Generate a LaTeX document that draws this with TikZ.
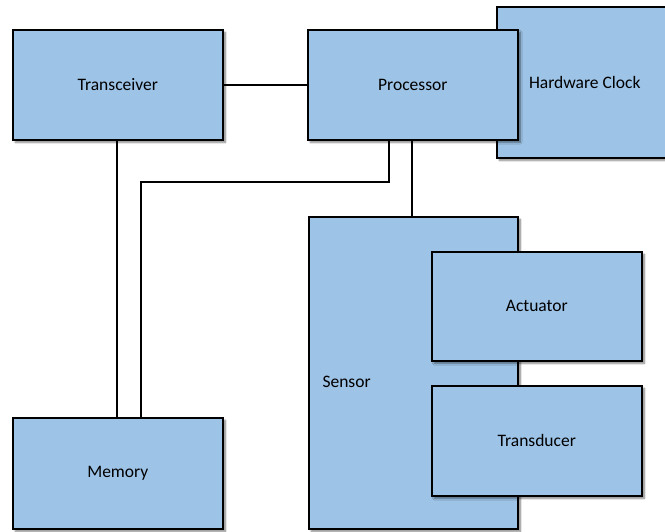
\documentclass[tikz,border=0pt]{standalone}
\usepackage{fontspec}
\setmainfont{Carlito}
\usetikzlibrary{shadows.blur}
\definecolor{boxblue}{HTML}{9DC3E6}
\tikzset{
  unit/.style={draw=black, line width=1.6pt, fill=boxblue, rectangle,
    anchor=north west, inner sep=0pt, font=\fontsize{17.5}{20}\selectfont,
    blur shadow={shadow xshift=2.5pt, shadow yshift=-2.5pt, shadow blur steps=6, shadow opacity=50}},
  wire/.style={draw=black, line width=1.6pt}
}
\begin{document}
\begin{tikzpicture}[x=1pt, y=-1pt]
\useasboundingbox (0,0) rectangle (665,531);
% boxes
\node[unit, minimum width=176pt, minimum height=151pt] (clk) at (496,6) {Hardware Clock};
\node[unit, minimum width=210pt, minimum height=110pt] (trx) at (12,29) {Transceiver};
\node[unit, minimum width=210pt, minimum height=110pt] (proc) at (307,29) {Processor};
\node[unit, minimum width=209pt, minimum height=312pt,
  label={[anchor=west, xshift=11pt, yshift=-9pt, font=\fontsize{17.5}{20}\selectfont]west:Sensor}] (sens) at (308,216) {};
\node[unit, minimum width=210pt, minimum height=109pt] (act) at (431,251) {Actuator};
\node[unit, minimum width=210pt, minimum height=110pt] (trd) at (431,385) {Transducer};
\node[unit, minimum width=210pt, minimum height=111pt] (mem) at (12,417) {Memory};
% connectors
\coordinate (bend) at (141,182);
\draw[wire] (trx.east) -- (proc.west);
\draw[wire] ([xshift=-1pt]trx.south) -- ([xshift=-1pt]trx.south |- mem.north);
\draw[wire] ([xshift=82pt]proc.south west) |- (bend) -- (bend |- mem.north);
\draw[wire] ([xshift=105pt]proc.south west) -- ([xshift=105pt]proc.south west |- sens.north);
\end{tikzpicture}
\end{document}
